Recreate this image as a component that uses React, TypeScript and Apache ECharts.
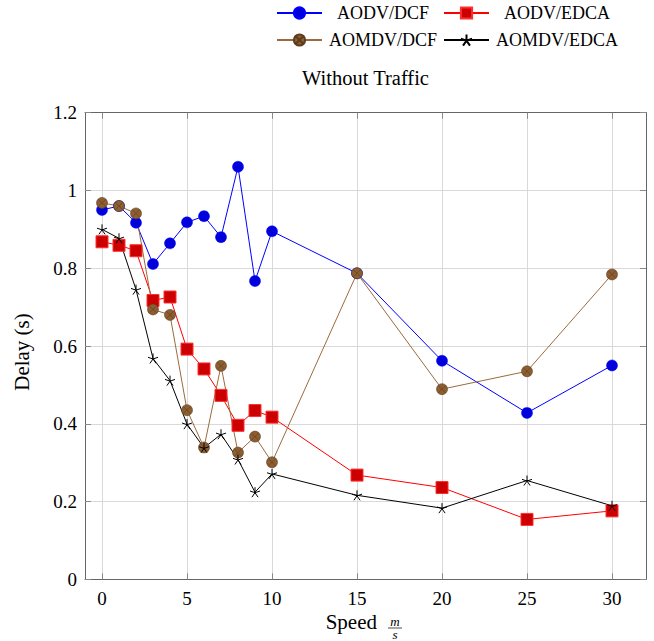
import React, { useEffect, useRef } from "react";
import * as echarts from "echarts";

const speeds = [0, 1, 2, 3, 4, 5, 6, 7, 8, 9, 10, 15, 20, 25, 30];
const aodvDcf = [0.95, 0.96, 0.917, 0.811, 0.864, 0.918, 0.934, 0.88, 1.061, 0.767, 0.895, 0.787, 0.562, 0.428, 0.55];
const aodvEdca = [0.868, 0.859, 0.845, 0.717, 0.726, 0.592, 0.541, 0.473, 0.396, 0.434, 0.417, 0.268, 0.236, 0.154, 0.176];
const aomdvDcf = [0.968, 0.96, 0.941, 0.694, 0.68, 0.435, 0.339, 0.549, 0.326, 0.367, 0.301, 0.787, 0.489, 0.535, 0.784];
const aomdvEdca = [0.9, 0.877, 0.745, 0.568, 0.511, 0.399, 0.338, 0.373, 0.308, 0.224, 0.271, 0.216, 0.183, 0.254, 0.189];
const xTicks = [0, 5, 10, 15, 20, 25, 30];
const seriesNames = ["AODV/DCF", "AODV/EDCA", "AOMDV/DCF", "AOMDV/EDCA"];

const FONT = "'Liberation Serif', 'Times New Roman', serif";

const otimesPath =
  "path://M10 0 A10 10 0 1 1 -10 0 A10 10 0 1 1 10 0 Z M-7.07 -7.07 L7.07 7.07 M-7.07 7.07 L7.07 -7.07";
const starPath =
  "path://M0 0 L0 -10 M0 0 L-9.51 -3.09 M0 0 L-5.88 8.09 M0 0 L5.88 8.09 M0 0 L9.51 -3.09";

function pairs(vals: number[]) {
  return speeds.map((s, i) => [s, vals[i]]);
}

export default function App() {
  const ref = useRef<HTMLDivElement>(null);
  useEffect(() => {
    if (!ref.current) return;
    const chart = echarts.init(ref.current, null, { renderer: "svg" });
    const axisLineStyle = { color: "#666", width: 1 };
    const tickStyle = { color: "#888", width: 1 };
    const legendBase = (name: string, left: number, top: number, w: number) => ({
      data: [name],
      left,
      top,
      padding: 0,
      itemWidth: 45,
      itemHeight: 14,
      formatter: "{a|{name}}",
      textStyle: {
        color: "#000",
        fontFamily: FONT,
        fontSize: 18,
        rich: { a: { width: w, align: "center", fontFamily: FONT, fontSize: 18, color: "#000" } },
      },
    });
    chart.setOption({
      animation: false,
      backgroundColor: "#fff",
      title: {
        text: "Without Traffic",
        left: 365.5,
        top: 67,
        padding: 0,
        textAlign: "center",
        textStyle: { fontFamily: FONT, fontSize: 20.5, fontWeight: "normal", color: "#000" },
      },
      legend: [
        legendBase(seriesNames[0], 276, 4, 112),
        legendBase(seriesNames[1], 443, 4, 126),
        legendBase(seriesNames[2], 276, 31, 112),
        legendBase(seriesNames[3], 443, 31, 126),
      ],
      grid: { left: 85, right: 8, top: 112.7, bottom: 61.7, containLabel: false },
      xAxis: [
        {
          type: "value",
          min: -1,
          max: 32,
          position: "bottom",
          axisLine: { show: true, onZero: false, lineStyle: axisLineStyle },
          axisTick: { show: true, inside: true, length: 6, lineStyle: tickStyle, customValues: xTicks },
          axisLabel: {
            customValues: xTicks,
            margin: 10,
            fontFamily: FONT,
            fontSize: 19,
            color: "#000",
          },
          splitLine: { show: true, lineStyle: { color: "#d9d9d9", width: 1 } },
        },
        {
          type: "value",
          min: -1,
          max: 32,
          position: "top",
          axisLine: { show: true, onZero: false, lineStyle: axisLineStyle },
          axisTick: { show: true, inside: true, length: 6, lineStyle: tickStyle, customValues: xTicks },
          axisLabel: { show: false, customValues: xTicks },
          splitLine: { show: false },
        },
      ],
      yAxis: [
        {
          type: "value",
          min: 0,
          max: 1.2,
          interval: 0.2,
          position: "left",
          axisLine: { show: true, onZero: false, lineStyle: axisLineStyle },
          axisTick: { show: true, inside: true, length: 6, lineStyle: tickStyle },
          axisLabel: { margin: 8, fontFamily: FONT, fontSize: 19, color: "#000" },
          splitLine: { show: true, lineStyle: { color: "#d9d9d9", width: 1 } },
        },
        {
          type: "value",
          min: 0,
          max: 1.2,
          interval: 0.2,
          position: "right",
          axisLine: { show: true, onZero: false, lineStyle: axisLineStyle },
          axisTick: { show: true, inside: true, length: 6, lineStyle: tickStyle },
          axisLabel: { show: false },
          splitLine: { show: false },
        },
      ],
      series: [
        {
          name: seriesNames[0],
          type: "line",
          data: pairs(aodvDcf),
          symbol: "circle",
          symbolSize: 11,
          lineStyle: { color: "#0000ff", width: 1 },
          itemStyle: { color: "#0000dd", borderColor: "#0000ff", borderWidth: 0.5 },
        },
        {
          name: seriesNames[1],
          type: "line",
          data: pairs(aodvEdca),
          symbol: "rect",
          symbolSize: 12,
          lineStyle: { color: "#ff0000", width: 1 },
          itemStyle: { color: "#cc0000", borderColor: "#ff3030", borderWidth: 1 },
        },
        {
          name: seriesNames[2],
          type: "line",
          data: pairs(aomdvDcf),
          symbol: otimesPath,
          symbolSize: 11,
          lineStyle: { color: "#9a6b3c", width: 1 },
          itemStyle: { color: "#8c5e31", borderColor: "#5e3d1c", borderWidth: 0.6 },
        },
        {
          name: seriesNames[3],
          type: "line",
          data: pairs(aomdvEdca),
          symbol: starPath,
          symbolSize: 10,
          lineStyle: { color: "#000", width: 1 },
          itemStyle: { color: "#000", borderColor: "#000", borderWidth: 1 },
        },
      ],
      graphic: [
        {
          type: "text",
          x: 22,
          y: 352,
          rotation: Math.PI / 2,
          style: {
            text: "Delay (s)",
            align: "center",
            verticalAlign: "middle",
            fontFamily: FONT,
            fontSize: 21,
            fill: "#000",
          },
        },
        {
          type: "text",
          x: 377,
          y: 622,
          style: {
            text: "Speed",
            align: "right",
            verticalAlign: "middle",
            fontFamily: FONT,
            fontSize: 21,
            fill: "#000",
          },
        },
        {
          type: "text",
          x: 395,
          y: 621,
          style: {
            text: "m",
            align: "center",
            verticalAlign: "middle",
            fontFamily: FONT,
            fontStyle: "italic",
            fontSize: 13,
            fill: "#000",
          },
        },
        {
          type: "line",
          shape: { x1: 388, y1: 628, x2: 402, y2: 628 },
          style: { stroke: "#000", lineWidth: 0.7 },
        },
        {
          type: "text",
          x: 395,
          y: 634.5,
          style: {
            text: "s",
            align: "center",
            verticalAlign: "middle",
            fontFamily: FONT,
            fontStyle: "italic",
            fontSize: 13,
            fill: "#000",
          },
        },
      ],
    });
    return () => chart.dispose();
  }, []);
  return (
    <div
      ref={ref}
      style={{ position: "absolute", left: 0, top: 0, width: 654, height: 641 }}
    />
  );
}
